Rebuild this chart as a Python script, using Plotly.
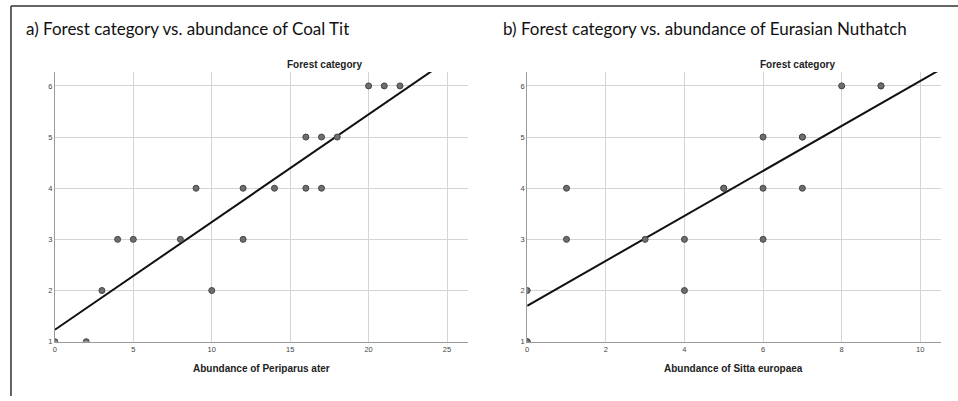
import numpy as np
import plotly.graph_objects as go

# Panel a: Coal Tit (Periparus ater)
coal_tit_abundance = [0, 2, 3, 10, 4, 5, 8, 12, 9, 12, 14, 16, 17, 16, 17, 18, 20, 21, 22]
coal_tit_forest = [1, 1, 2, 2, 3, 3, 3, 3, 4, 4, 4, 4, 4, 5, 5, 5, 6, 6, 6]

# Panel b: Eurasian Nuthatch (Sitta europaea)
nuthatch_abundance = [0, 0, 0, 4, 1, 3, 4, 6, 1, 5, 5, 6, 7, 6, 7, 7, 8, 9, 9]
nuthatch_forest = [1, 1, 2, 2, 3, 3, 3, 3, 4, 4, 4, 4, 4, 5, 5, 5, 6, 6, 6]

titles = ["a) Forest category vs. abundance of Coal Tit",
          "b) Forest category vs. abundance of Eurasian Nuthatch"]
x_titles = ["Abundance of Periparus ater", "Abundance of Sitta europaea"]
y_title = "Forest category"
x_ranges = [[0, 26.34], [0, 10.52]]
x_dtick = [5, 2]
y_range = [1, 6.27]

W, H = 958, 401
fig = go.Figure()

panels = [(coal_tit_abundance, coal_tit_forest), (nuthatch_abundance, nuthatch_forest)]
domains = [[53 / W, 467 / W], [526.3 / W, 940.7 / W]]
ydom = [(H - 346) / H, (H - 73) / H]

for i, (xs, ys) in enumerate(panels):
    xa = "x" if i == 0 else "x2"
    ya = "y" if i == 0 else "y2"
    xs_arr = np.array(xs, dtype=float)
    ys_arr = np.array(ys, dtype=float)
    slope, intercept = np.polyfit(xs_arr, ys_arr, 1)
    lx = np.array([0, x_ranges[i][1]])
    fig.add_trace(go.Scatter(x=lx, y=intercept + slope * lx, mode="lines",
                             line=dict(color="#111111", width=2),
                             xaxis=xa, yaxis=ya, showlegend=False, hoverinfo="skip"))
    fig.add_trace(go.Scatter(x=xs, y=ys, mode="markers",
                             marker=dict(size=6, color="#6e6e6e",
                                         line=dict(color="#444444", width=1)),
                             xaxis=xa, yaxis=ya, showlegend=False))

axis_common = dict(showgrid=True, gridcolor="#d4d4d4", gridwidth=1,
                   showline=True, linecolor="#9a9a9a", linewidth=1,
                   zeroline=False, ticks="",
                   tickfont=dict(family="Liberation Sans, Arial, sans-serif", size=7.5, color="#444444"))

fig.update_layout(
    width=W, height=H,
    margin=dict(l=0, r=0, t=0, b=0),
    paper_bgcolor="white", plot_bgcolor="white",
    xaxis=dict(domain=domains[0], range=x_ranges[0], dtick=x_dtick[0], anchor="y", **axis_common),
    yaxis=dict(domain=ydom, range=y_range, dtick=1, anchor="x", **axis_common),
    xaxis2=dict(domain=domains[1], range=x_ranges[1], dtick=x_dtick[1], anchor="y2", **axis_common),
    yaxis2=dict(domain=ydom, range=y_range, dtick=1, anchor="x2", **axis_common),
)

# Panel titles
title_x = [22, 500]
for i in range(2):
    fig.add_annotation(text=titles[i], xref="paper", yref="paper",
                       x=title_x[i] / W, y=1 - 29 / H, xanchor="left", yanchor="middle",
                       showarrow=False,
                       font=dict(family="Lato, Open Sans, sans-serif", size=17, color="#111111"))
    cx = (domains[i][0] + domains[i][1]) / 2
    fig.add_annotation(text="<b>" + x_titles[i] + "</b>", xref="paper", yref="paper",
                       x=cx, y=1 - 373 / H, xanchor="center", yanchor="middle",
                       showarrow=False,
                       font=dict(family="Liberation Sans, Arial, sans-serif", size=10, color="#222222"))
    fig.add_annotation(text="<b>" + y_title + "</b>", xref="paper", yref="paper",
                       x=(cx * W + 63.5) / W, y=1 - 65 / H, xanchor="center", yanchor="middle",
                       showarrow=False,
                       font=dict(family="Liberation Sans, Arial, sans-serif", size=10, color="#222222"))

# Frame lines (top and left)
fig.add_shape(type="line", xref="paper", yref="paper", x0=9 / W, x1=1, y0=1 - 6 / H, y1=1 - 6 / H,
              line=dict(color="#333333", width=1.5))
fig.add_shape(type="line", xref="paper", yref="paper", x0=9 / W, x1=9 / W, y0=0, y1=1 - 6 / H,
              line=dict(color="#333333", width=1.5))

fig.write_html("out.html", config={"displayModeBar": False},
               post_script="document.body.style.margin='0px';document.body.style.overflow='hidden';")
